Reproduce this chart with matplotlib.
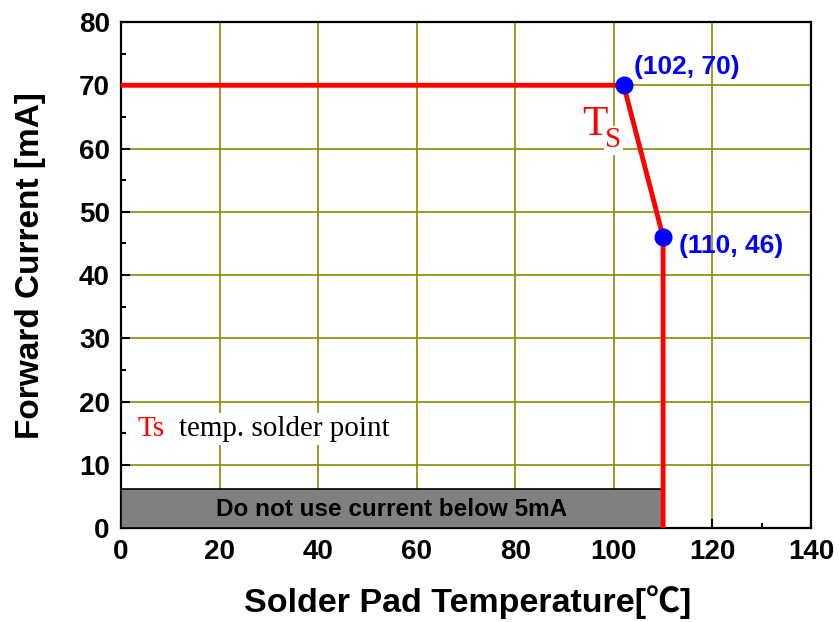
import matplotlib
matplotlib.use('Agg')
import matplotlib.pyplot as plt
from matplotlib.patches import Rectangle
from matplotlib.ticker import MultipleLocator

plt.rcParams['font.family'] = ['Liberation Sans', 'DejaVu Sans']

# derating curve
temp = [0, 102, 110, 110]
current = [70, 70, 46, 0]

# labelled corner points
pt_x = [102, 110]
pt_y = [70, 46]
pt_labels = ['(102, 70)', '(110, 46)']

# "do not use" band
band_xmax = 110
band_ymax = 6.2

fig = plt.figure(figsize=(8.39, 6.22), dpi=100)
ax = fig.add_axes([0.1442, 0.1511, 0.8224, 0.8135])

ax.grid(True, color='#8b8b00', linewidth=1.2)
ax.set_axisbelow(True)

ax.add_patch(Rectangle((0, 0), band_xmax, band_ymax, facecolor='#808080',
                       edgecolor='black', linewidth=1.2, zorder=3))
ax.text(band_xmax / 2, 2.9, 'Do not use current below 5mA',
        ha='center', va='center', fontsize=17.5, fontweight='bold', zorder=4)

ax.plot(temp, current, color='red', linewidth=3.5, zorder=5)
ax.plot(pt_x, pt_y, 'o', color='blue', markersize=12, zorder=6)
ax.text(104.1, 72.9, pt_labels[0], color='blue',
        fontsize=19, fontweight='bold', ha='left', va='center', zorder=6)
ax.text(113.2, 44.6, pt_labels[1], color='blue',
        fontsize=19, fontweight='bold', ha='left', va='center', zorder=6)

# big Ts label next to the slope
ax.text(93.5, 62.1, 'T', color='red', fontsize=30, family='Liberation Serif',
        ha='left', va='baseline', zorder=6,
        bbox=dict(facecolor='white', edgecolor='none', pad=1))
ax.text(98.2, 60.2, 'S', color='red', fontsize=21, family='Liberation Serif',
        ha='left', va='baseline', zorder=6,
        bbox=dict(facecolor='white', edgecolor='none', pad=1))

ax.text(3.45, 14.5, 'Ts', color='red', fontsize=21, family='Liberation Serif',
        ha='left', va='baseline', zorder=6)
ax.text(11.8, 14.5, 'temp. solder point', color='black', fontsize=21,
        family='Liberation Serif', ha='left', va='baseline', zorder=6,
        bbox=dict(facecolor='white', edgecolor='none', pad=2))

ax.set_xlim(0, 140)
ax.set_ylim(0, 80)
ax.xaxis.set_major_locator(MultipleLocator(20))
ax.xaxis.set_minor_locator(MultipleLocator(10))
ax.yaxis.set_major_locator(MultipleLocator(10))
ax.yaxis.set_minor_locator(MultipleLocator(5))
ax.tick_params(which='both', direction='in', width=1.5, labelsize=20, pad=8)
ax.tick_params(which='major', length=6.5)
ax.tick_params(which='minor', length=3.5)
for lab in ax.get_xticklabels() + ax.get_yticklabels():
    lab.set_fontweight('bold')
for s in ax.spines.values():
    s.set_linewidth(1.6)

ax.set_xlabel('Solder Pad Temperature[\u2103]', fontsize=24.5, fontweight='bold',
              family=['Liberation Sans', 'Noto Sans CJK KR', 'DejaVu Sans'])
ax.set_ylabel('Forward Current [mA]', fontsize=24, fontweight='bold')
ax.xaxis.set_label_coords(0.502, -0.113)
ax.yaxis.set_label_coords(-0.108, 0.518)

fig.savefig('out.png', dpi=100)
